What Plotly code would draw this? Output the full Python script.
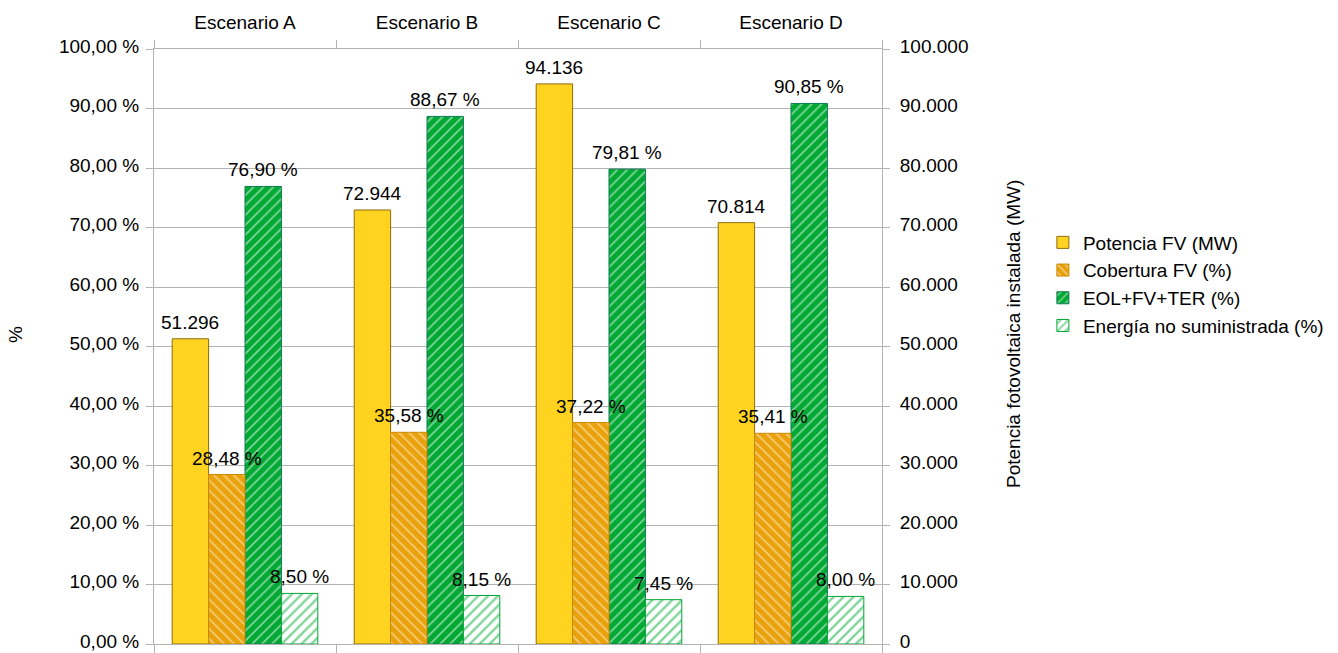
import plotly.graph_objects as go

# Escenarios y resultados
escenarios = ["Escenario A", "Escenario B", "Escenario C", "Escenario D"]
potencia_fv_mw = [51296, 72944, 94136, 70814]
cobertura_fv = [28.48, 35.58, 37.22, 35.41]
eol_fv_ter = [76.90, 88.67, 79.81, 90.85]
energia_no_sum = [8.50, 8.15, 7.45, 8.00]

# Marcas de los ejes
ticks_pct = [0, 10, 20, 30, 40, 50, 60, 70, 80, 90, 100]
ticks_mw = [0, 10000, 20000, 30000, 40000, 50000, 60000, 70000, 80000, 90000, 100000]

FONT = "Liberation Sans, Arial, sans-serif"
GRID = "#b3b3b3"
TXT = 19
BW = 0.2  # ancho de cada barra dentro de la categoría


def fmt_mw(v):
    return f"{v:,.0f}".replace(",", ".")


def fmt_pct(v):
    return f"{v:.2f}".replace(".", ",") + " %"


# (nombre, valores, eje, desplazamiento, estilo del marcador, formato, orden en leyenda)
series = [
    ("Potencia FV (MW)", potencia_fv_mw, "y", -0.4,
     dict(color="#ffd320", line=dict(color="#8c6d0a", width=1)), fmt_mw, 1),
    ("EOL+FV+TER (%)", eol_fv_ter, "y2", 0.0,
     dict(color="#00a933", line=dict(color="#0b7a52", width=1),
          pattern=dict(shape="/", bgcolor="#00a933", fgcolor="#ffffff",
                       size=7, solidity=0.25, fillmode="overlay")), fmt_pct, 3),
    ("Cobertura FV (%)", cobertura_fv, "y2", -0.2,
     dict(color="#eaa20c", line=dict(color="#c98a00", width=1),
          pattern=dict(shape="\\", bgcolor="#eaa20c", fgcolor="#ffffff",
                       size=7, solidity=0.22, fillmode="overlay")), fmt_pct, 2),
    ("Energía no suministrada (%)", energia_no_sum, "y2", 0.2,
     dict(color="#ffffff", line=dict(color="#00a933", width=1),
          pattern=dict(shape="/", bgcolor="#ffffff", fgcolor="#00a933",
                       size=7, solidity=0.33, fillmode="overlay")), fmt_pct, 4),
]

fig = go.Figure()
labels = []
for name, vals, axis, off, marker, fmt, rank in series:
    fig.add_trace(go.Bar(
        x=escenarios, y=vals, name=name, legendrank=rank, yaxis=axis,
        width=BW, offset=off, marker=marker,
        hovertemplate="%{x}<br>" + name + ": %{y}<extra></extra>",
    ))
    # etiqueta de valor centrada sobre cada barra
    for i, v in enumerate(vals):
        labels.append(dict(
            text=fmt(v), x=i + off + BW / 2, y=v,
            xref="x", yref=axis, xanchor="center", yanchor="bottom",
            yshift=4, showarrow=False,
            font=dict(size=TXT, family=FONT, color="#000000"),
        ))

PLOT_H = 653 - 49 - 9

fig.update_layout(
    width=1338, height=653,
    margin=dict(l=154, r=456, t=49, b=9),
    paper_bgcolor="#ffffff", plot_bgcolor="#ffffff",
    separators=",.",
    barmode="overlay",
    font=dict(family=FONT, size=TXT, color="#000000"),
    showlegend=True,
    legend=dict(x=1.221, xanchor="left", y=0.605, yanchor="middle",
                font=dict(size=TXT, family=FONT, color="#000000"),
                traceorder="normal", bgcolor="rgba(0,0,0,0)"),
    xaxis=dict(
        side="top", type="category", range=[-0.5, 3.5], automargin=False,
        showgrid=False, showline=True, linecolor=GRID, linewidth=1,
        mirror="ticks", ticks="outside", tickson="boundaries",
        ticklen=8, tickcolor=GRID, tickwidth=1, ticklabelstandoff=11,
        tickfont=dict(size=TXT, family=FONT, color="#000000"),
    ),
    yaxis=dict(
        side="right", range=[0, 100000],
        tickvals=ticks_mw, ticktext=[fmt_mw(v) for v in ticks_mw],
        automargin=False, ticklabeloverflow="allow", ticklabelshift=-3,
        showgrid=True, gridcolor=GRID, gridwidth=1,
        showline=True, linecolor=GRID, linewidth=1,
        ticks="outside", ticklen=7, tickcolor=GRID,
        tickfont=dict(size=TXT, family=FONT, color="#000000"),
        zeroline=False, ticklabelstandoff=6,
    ),
    yaxis2=dict(
        overlaying="y", side="left", range=[0, 100],
        tickvals=ticks_pct, ticktext=[fmt_pct(v) for v in ticks_pct],
        automargin=False, ticklabeloverflow="allow", ticklabelshift=-3,
        showgrid=False, showline=True, linecolor=GRID, linewidth=1,
        ticks="outside", ticklen=7, tickcolor=GRID,
        tickfont=dict(size=TXT, family=FONT, color="#000000"),
        zeroline=False, ticklabelstandoff=3,
    ),
    annotations=labels + [
        dict(text="%", xref="paper", yref="paper", x=-139 / 728, y=(644 - 335) / PLOT_H,
             xanchor="center", yanchor="middle", showarrow=False, textangle=-90,
             font=dict(size=TXT, family=FONT, color="#000000")),
        dict(text="Potencia fotovoltaica instalada (MW)", xref="paper", yref="paper",
             x=(1013 - 154) / 728, y=(644 - 334) / PLOT_H,
             xanchor="center", yanchor="middle", showarrow=False, textangle=-90,
             font=dict(size=TXT, family=FONT, color="#000000")),
    ],
)

fig.write_html("out.html")
